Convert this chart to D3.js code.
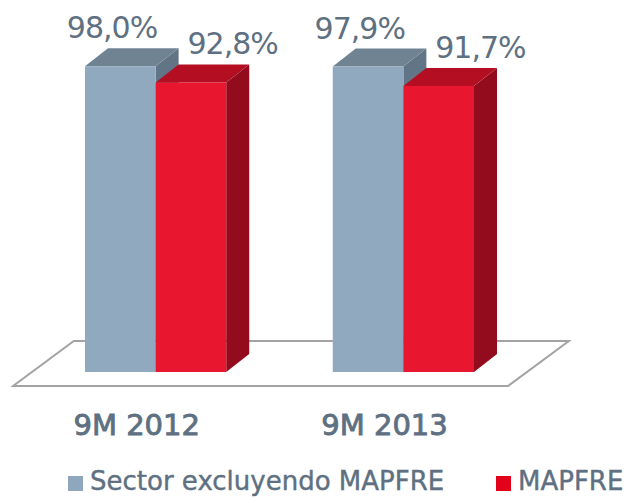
<!DOCTYPE html>
<html>
<head>
<meta charset="utf-8">
<script src="https://cdn.jsdelivr.net/npm/d3@7"></script>
<style>
body { margin:0; background:#fff; }
</style>
</head>
<body>
<svg id="chart"></svg>
<script>
var categories = ["9M 2012", "9M 2013"];
var seriesNames = ["Sector excluyendo MAPFRE", "MAPFRE"];
var sectorValues = [98.0, 97.9];
var mapfreValues = [92.8, 91.7];
var valueLabels = [["98,0%", "92,8%"], ["97,9%", "91,7%"]];

var screen = { width:626, height:498 };

// face colours: front, top, side
var colors = [
  { front:"#91a9be", top:"#6f8393", side:"#627586", legend:"#8ea7bc" },
  { front:"#e8172f", top:"#b30e22", side:"#920c1e", legend:"#e2001a" }
];
var textColor = "#5e7081";

var base = 372;      // floor line under bar fronts
var dx = 23, dy = -18; // bar depth
var k = 1.35;         // x shift per px of depth

var svg = d3.select("#chart")
  .attr("width", screen.width)
  .attr("height", screen.height);

var xScale = d3.scaleBand()
  .domain(categories)
  .range([85, 474])
  .paddingInner(0.43)
  .paddingOuter(0);

var xInner = d3.scaleBand()
  .domain(seriesNames)
  .range([0, xScale.bandwidth()]);

var yScale = d3.scaleLinear()
  .domain([0, 100])
  .range([base, 60]);

// floor
var fx0 = xScale.range()[0] - 53, fx1 = xScale.range()[1] + 53;
var front = 14, back = 31;
var floor = [
  [fx0 - front*k, base + front],
  [fx1 - front*k, base + front],
  [fx1 + back*k, base - back],
  [fx0 + back*k, base - back]
];
svg.append("polygon")
  .attr("points", floor.map(function(p){ return p.join(","); }).join(" "))
  .attr("fill", "#fff")
  .attr("stroke", "#a3a3a3")
  .attr("stroke-width", 2);

var data = categories.map(function(c, i){
  return [
    { cat:c, s:0, value:sectorValues[i], label:valueLabels[i][0] },
    { cat:c, s:1, value:mapfreValues[i], label:valueLabels[i][1] }
  ];
});

var groups = svg.selectAll("g.group")
  .data(data)
  .enter()
  .append("g")
  .attr("class", "group");

groups.each(function(d){
  var g = d3.select(this);
  d.forEach(function(b){
    var x = xScale(b.cat) + xInner(seriesNames[b.s]);
    var w = xInner.bandwidth();
    var y = yScale(b.value);
    var c = colors[b.s];
    // side
    g.append("polygon")
      .attr("points", [[x+w,y],[x+w+dx,y+dy],[x+w+dx,base+dy],[x+w,base]].join(" "))
      .attr("fill", c.side);
    // top
    g.append("polygon")
      .attr("points", [[x,y],[x+w,y],[x+w+dx,y+dy],[x+dx,y+dy]].join(" "))
      .attr("fill", c.top);
    // front
    g.append("rect")
      .attr("x", x)
      .attr("y", y)
      .attr("width", w)
      .attr("height", base - y)
      .attr("fill", c.front);
  });
});

// value labels
groups.each(function(d){
  var g = d3.select(this);
  d.forEach(function(b){
    var x = xScale(b.cat) + xInner(seriesNames[b.s]);
    g.append("text")
      .attr("x", x + (b.s == 0 ? 27 : 77))
      .attr("y", yScale(b.value) - 28)
      .attr("text-anchor", "middle")
      .attr("font-family", "DejaVu Sans")
      .attr("font-size", "30px")
      .attr("letter-spacing", "-1")
      .attr("fill", textColor)
      .text(b.label);
  });
});

// category labels under floor front
svg.selectAll("text.cat")
  .data(categories)
  .enter()
  .append("text")
  .attr("class", "cat")
  .attr("x", function(d){ return xScale(d) + xScale.bandwidth()/2 - front*k; })
  .attr("y", 435)
  .attr("text-anchor", "middle")
  .attr("font-family", "DejaVu Sans")
  .attr("font-size", "29px")
  .attr("fill", textColor)
  .attr("stroke", textColor)
  .attr("stroke-width", 0.9)
  .text(function(d){ return d; });

// legend
var legendX = [68, 496];
var legend = svg.selectAll("g.legend")
  .data(seriesNames)
  .enter()
  .append("g")
  .attr("class", "legend")
  .attr("transform", function(d,i){ return "translate(" + legendX[i] + ",476)"; });
legend.append("rect")
  .attr("width", 15)
  .attr("height", 15)
  .attr("fill", function(d,i){ return colors[i].legend; });
legend.append("text")
  .attr("x", 22)
  .attr("y", 14)
  .attr("font-family", "DejaVu Sans")
  .attr("font-size", "26px")
  .attr("fill", textColor)
  .attr("stroke", textColor)
  .attr("stroke-width", 0.4)
  .text(function(d){ return d; });
</script>
</body>
</html>
